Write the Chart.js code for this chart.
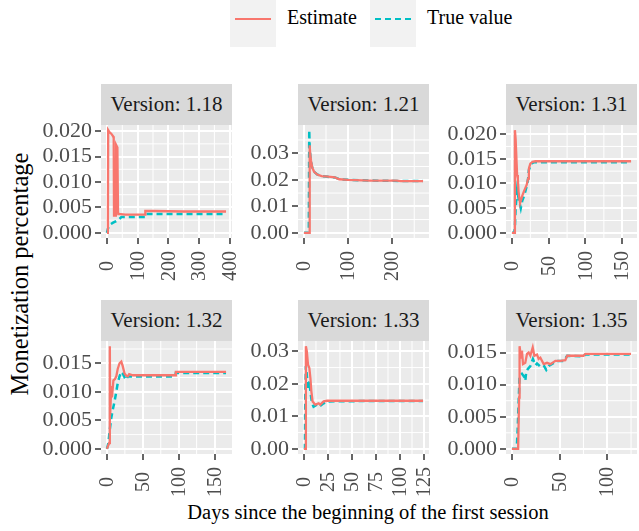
<!DOCTYPE html>
<html>
<head>
<meta charset="utf-8">
<script src="https://cdn.jsdelivr.net/npm/chart.js@4.4.0/dist/chart.umd.min.js"></script>
<style>
  body { margin: 0; width: 639px; height: 531px; position: relative; overflow: hidden; background: #fff; font-family: "Liberation Serif", "Times New Roman", serif; }
  .strip { position: absolute; background: #D9D9D9; color: #1A1A1A; font-size: 21px; text-align: center; }
  .key { position: absolute; top: 0; width: 46px; height: 47px; background: #F2F2F2; }
  .key div { position: absolute; left: 5px; right: 5px; top: 18px; }
  .lbl { position: absolute; font-size: 20px; color: #000; top: 6px; }
  canvas { position: absolute; }
  #ytitle { position: absolute; font-size: 24.5px; white-space: nowrap; transform: translate(-50%, -50%) rotate(-90deg); left: 20px; top: 274px; }
  #xtitle { position: absolute; font-size: 20.5px; white-space: nowrap; transform: translateX(-50%); left: 368px; top: 501px; }
</style>
</head>
<body>
<div class="key" style="left:230px"><div style="border-top:2.5px solid #F8766D"></div></div>
<span class="lbl" style="left:287px">Estimate</span>
<div class="key" style="left:370px"><div style="border-top:2.5px dashed #00BFC4"></div></div>
<span class="lbl" style="left:427px">True value</span>
<div id="ytitle">Monetization percentage</div>
<div id="xtitle">Days since the beginning of the first session</div>
<script>
const versions = ['1.18', '1.21', '1.31', '1.32', '1.33', '1.35'];

// Version 1.18
const days118Est = [0, 3, 4, 8, 14, 20, 22, 23, 29, 30, 34, 36, 37, 45, 60, 90, 124, 125, 150, 250, 388];
const est118 = [0, 0, 0.0202, 0.0198, 0.0195, 0.0190, 0.0186, 0.0034, 0.0034, 0.0173, 0.0168, 0.0040, 0.0037, 0.0037, 0.0036, 0.0036, 0.0036, 0.0043, 0.0043, 0.0042, 0.0042];
const days118True = [0, 3, 6, 12, 20, 30, 40, 47, 80, 124, 127, 200, 388];
const true118 = [0, 0.0008, 0.0013, 0.0017, 0.0020, 0.0023, 0.0027, 0.0031, 0.0031, 0.0031, 0.0037, 0.0037, 0.0037];

// Version 1.21
const days121Est = [0, 12, 13, 14, 16, 19, 23, 30, 40, 55, 70, 80, 100, 150, 210, 220, 270];
const est121 = [0, 0, 0.0330, 0.0300, 0.0272, 0.0245, 0.0230, 0.0220, 0.0214, 0.0212, 0.0209, 0.0202, 0.0200, 0.0197, 0.0197, 0.0195, 0.0195];
const days121True = [0, 11, 12, 13, 15, 18, 22, 30, 40, 55, 70, 80, 100, 150, 200, 270];
const true121 = [0, 0, 0.0387, 0.0320, 0.0280, 0.0250, 0.0232, 0.0220, 0.0214, 0.0211, 0.0209, 0.0202, 0.0200, 0.0197, 0.0196, 0.0195];

// Version 1.31
const days131Est = [0, 3, 4, 5, 7, 8, 9, 11, 14, 16, 18, 20, 22, 23, 25, 28, 32, 60, 100, 162];
const est131 = [0, 0, 0.0208, 0.0190, 0.0117, 0.0110, 0.0083, 0.0060, 0.0075, 0.0083, 0.0090, 0.0097, 0.0110, 0.0130, 0.0140, 0.0144, 0.0145, 0.0145, 0.0145, 0.0145];
const days131True = [0, 3, 4, 5, 7, 9, 12, 14, 16, 18, 20.5, 22, 23, 26, 30, 60, 162];
const true131 = [0, 0, 0.0010, 0.0050, 0.0087, 0.0070, 0.0050, 0.0065, 0.0073, 0.0083, 0.0097, 0.0110, 0.0127, 0.0140, 0.0143, 0.0143, 0.0143];

// Version 1.32
const days132Est = [0, 3, 4, 4.5, 6, 7, 9, 11, 13, 15, 17.5, 20, 22, 24.5, 27, 29, 31, 36, 60, 95, 96, 120, 166];
const est132 = [0, 0.0010, 0.0180, 0.0060, 0.0110, 0.0090, 0.0120, 0.0122, 0.0127, 0.0140, 0.0150, 0.0153, 0.0145, 0.0132, 0.0128, 0.0127, 0.0131, 0.0129, 0.0129, 0.0129, 0.0135, 0.0135, 0.0135];
const days132True = [0, 2, 3.6, 6, 8, 10.6, 13, 15, 17.5, 20, 22, 25, 27, 29, 32, 60, 95, 96, 166];
const true132 = [0, 0.0010, 0.0030, 0.0054, 0.0068, 0.0083, 0.0100, 0.0115, 0.0127, 0.0135, 0.0132, 0.0124, 0.0121, 0.0127, 0.0127, 0.0127, 0.0127, 0.0133, 0.0133];

// Version 1.33
const days133Est = [0, 1.5, 2, 3, 4.2, 5.6, 6.7, 7.7, 9, 11.8, 15.3, 17, 20.5, 24, 60, 124];
const est133 = [0, 0, 0.0316, 0.0300, 0.0259, 0.0249, 0.0218, 0.0177, 0.0146, 0.0136, 0.0140, 0.0136, 0.0146, 0.0148, 0.0148, 0.0148];
const days133True = [0, 1, 1.4, 2, 3, 4.2, 5.6, 6.7, 8.3, 10, 13.5, 16, 20.5, 24, 60, 124];
const true133 = [0, 0, 0.0167, 0.0255, 0.0228, 0.0182, 0.0208, 0.0177, 0.0141, 0.0130, 0.0136, 0.0130, 0.0140, 0.0146, 0.0147, 0.0147];

// Version 1.35
const days135Est = [0, 6.5, 7.5, 8, 9.5, 10.5, 11.6, 14, 15.8, 17.5, 19.3, 21.8, 23.5, 26.3, 28, 29.8, 33.3, 36.8, 40.4, 45.6, 50.9, 56, 58, 75, 77, 125];
const est135 = [0, 0, 0.0080, 0.0160, 0.0142, 0.0153, 0.0132, 0.0134, 0.0148, 0.0150, 0.0145, 0.0158, 0.0145, 0.0147, 0.0140, 0.0142, 0.0132, 0.0134, 0.0132, 0.0137, 0.0137, 0.0138, 0.0145, 0.0145, 0.0148, 0.0148];
const days135True = [0, 5, 6, 8, 10.5, 13, 14, 15, 16.5, 19.3, 22, 24.6, 26.3, 29.8, 33.3, 36, 38.6, 43.9, 47.4, 54.4, 58, 75, 77, 125];
const true135 = [0, 0, 0.0030, 0.0114, 0.0117, 0.0112, 0.0106, 0.0120, 0.0124, 0.0129, 0.0140, 0.0130, 0.0133, 0.0128, 0.0130, 0.0123, 0.0129, 0.0134, 0.0137, 0.0137, 0.0145, 0.0144, 0.0147, 0.0147];

// tick breaks per panel
const xTicks = [[0, 100, 200, 300, 400], [0, 100, 200], [0, 50, 100, 150], [0, 50, 100, 150], [0, 25, 50, 75, 100, 125], [0, 50, 100]];
const yTicks = [
  [0, 0.005, 0.010, 0.015, 0.020],
  [0, 0.01, 0.02, 0.03],
  [0, 0.005, 0.010, 0.015, 0.020],
  [0, 0.005, 0.010, 0.015],
  [0, 0.01, 0.02, 0.03],
  [0, 0.005, 0.010, 0.015]
];
const yDecimals = [3, 2, 3, 3, 2, 3];

const series = [
  [days118Est, est118, days118True, true118],
  [days121Est, est121, days121True, true121],
  [days131Est, est131, days131True, true131],
  [days132Est, est132, days132True, true132],
  [days133Est, est133, days133True, true133],
  [days135Est, est135, days135True, true135]
];

const FONT = '"Liberation Serif", "Times New Roman", serif';
const plotLefts = [101, 298, 506];
const plotTops = [125, 341];
const plotW = 131, plotH = 113;
const yAxisW = 70, xAxisH = 45, padTop = 10, padRight = 8;

function toPoints(xs, ys) {
  return xs.map((x, i) => ({ x: x, y: ys[i] }));
}

// ggplot-like 5% expansion of data range
function expand(values) {
  const lo = Math.min(...values), hi = Math.max(...values);
  const d = (hi - lo) * 0.05;
  return [lo - d, hi + d];
}

function minorValues(ticks, min, max) {
  const step = ticks[1] - ticks[0];
  const out = [];
  for (let v = ticks[0] - step / 2; v <= max; v += step) {
    if (v >= min) out.push(v);
  }
  return out;
}

const panelBg = {
  id: 'panelBg',
  beforeDraw(chart, args, opts) {
    const { ctx, chartArea: a, scales } = chart;
    ctx.save();
    ctx.fillStyle = '#EBEBEB';
    ctx.fillRect(a.left, a.top, a.right - a.left, a.bottom - a.top);
    ctx.strokeStyle = '#FFFFFF';
    ctx.lineWidth = 1;
    minorValues(opts.xTicks, scales.x.min, scales.x.max).forEach(v => {
      const px = scales.x.getPixelForValue(v);
      ctx.beginPath(); ctx.moveTo(px, a.top); ctx.lineTo(px, a.bottom); ctx.stroke();
    });
    minorValues(opts.yTicks, scales.y.min, scales.y.max).forEach(v => {
      const py = scales.y.getPixelForValue(v);
      ctx.beginPath(); ctx.moveTo(a.left, py); ctx.lineTo(a.right, py); ctx.stroke();
    });
    ctx.restore();
  }
};

// rotated x labels, centred like ggplot's angle = 90
const xLabels = {
  id: 'xLabels',
  afterDraw(chart) {
    const { ctx, chartArea: a, scales } = chart;
    ctx.save();
    ctx.fillStyle = '#4D4D4D';
    ctx.font = '20px ' + FONT;
    ctx.textAlign = 'center';
    ctx.textBaseline = 'middle';
    scales.x.ticks.forEach(t => {
      const px = scales.x.getPixelForValue(t.value);
      ctx.save();
      ctx.translate(px, a.bottom + 28);
      ctx.rotate(-Math.PI / 2);
      ctx.fillText(String(t.value), 0, 1);
      ctx.restore();
    });
    ctx.restore();
  }
};

versions.forEach((ver, i) => {
  const col = i % 3, row = Math.floor(i / 3);
  const [dxE, yE, dxT, yT] = series[i];
  const xr = expand(dxE.concat(dxT));
  const yr = expand(yE.concat(yT));

  const strip = document.createElement('div');
  strip.className = 'strip';
  strip.textContent = 'Version: ' + ver;
  strip.style.left = plotLefts[col] + 'px';
  strip.style.width = plotW + 'px';
  strip.style.top = (plotTops[row] - 41) + 'px';
  strip.style.height = '41px';
  strip.style.lineHeight = '41px';
  document.body.appendChild(strip);

  const canvas = document.createElement('canvas');
  canvas.width = yAxisW + plotW + padRight;
  canvas.height = padTop + plotH + xAxisH;
  canvas.style.left = (plotLefts[col] - yAxisW) + 'px';
  canvas.style.top = (plotTops[row] - padTop) + 'px';
  document.body.appendChild(canvas);

  new Chart(canvas, {
    type: 'line',
    data: {
      datasets: [
        { label: 'Estimate', data: toPoints(dxE, yE), borderColor: '#F8766D', borderWidth: 2.3, pointRadius: 0, tension: 0 },
        { label: 'True value', data: toPoints(dxT, yT), borderColor: '#00BFC4', borderWidth: 2.5, borderDash: [6, 4], pointRadius: 0, tension: 0 }
      ]
    },
    options: {
      responsive: false,
      animation: false,
      layout: { padding: { top: padTop, right: padRight, left: 0, bottom: 0 } },
      plugins: {
        legend: { display: false },
        tooltip: { enabled: false },
        panelBg: { xTicks: xTicks[i], yTicks: yTicks[i] }
      },
      scales: {
        x: {
          type: 'linear',
          bounds: 'data',
          min: xr[0], max: xr[1],
          afterBuildTicks: s => { s.ticks = xTicks[i].map(v => ({ value: v })); },
          afterFit: s => { s.height = xAxisH; s.paddingLeft = 0; s.paddingRight = 0; },
          ticks: { display: false, autoSkip: false },
          grid: { color: '#FFFFFF', lineWidth: 2, tickColor: '#333333', tickLength: 6, tickWidth: 1.5 },
          border: { display: false }
        },
        y: {
          type: 'linear',
          bounds: 'data',
          min: yr[0], max: yr[1],
          afterBuildTicks: s => { s.ticks = yTicks[i].map(v => ({ value: v })); },
          afterFit: s => { s.width = yAxisW; s.paddingTop = 0; s.paddingBottom = 0; },
          ticks: {
            color: '#4D4D4D',
            padding: 3,
            autoSkip: false,
            font: { family: FONT, size: 22 },
            callback: v => v.toFixed(yDecimals[i])
          },
          grid: { color: '#FFFFFF', lineWidth: 2, tickColor: '#333333', tickLength: 6, tickWidth: 1.5 },
          border: { display: false }
        }
      }
    },
    plugins: [panelBg, xLabels]
  });
});
</script>
</body>
</html>
